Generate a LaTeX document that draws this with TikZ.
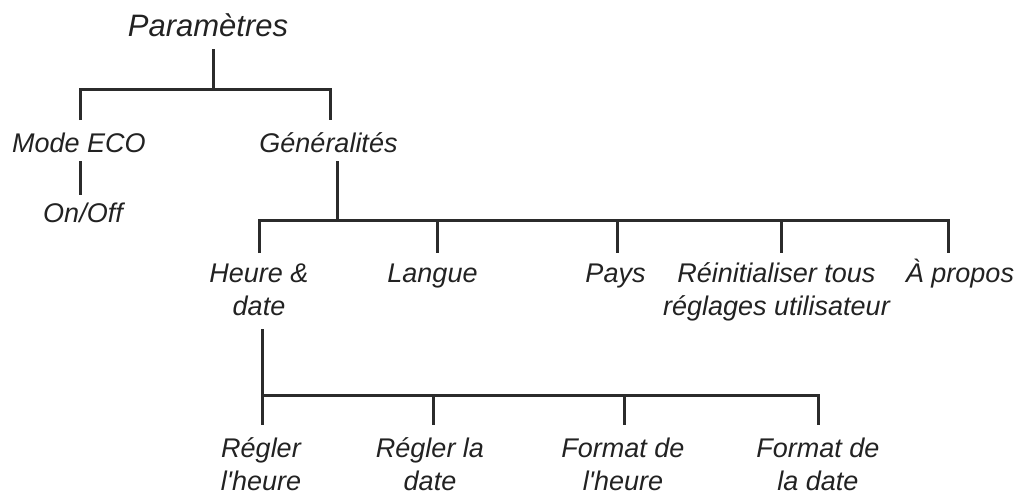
\documentclass[tikz,border=0pt]{standalone}
\usepackage{fontspec}
\newfontfamily\lsans{Liberation Sans}
\definecolor{linegray}{HTML}{2B2B2B}
\definecolor{textgray}{HTML}{222222}
\begin{document}
\begin{tikzpicture}[x=1pt,y=-1pt,
  lbl/.style={anchor=base,inner sep=0pt,align=center,text=textgray,
    font=\lsans\fontsize{27}{33}\selectfont\itshape},
  ttl/.style={anchor=base,inner sep=0pt,text=textgray,
    font=\lsans\fontsize{31}{36}\selectfont\itshape},
  conn/.style={draw=linegray,line width=3pt,line join=miter}]
\useasboundingbox (0,0) rectangle (1026,498);
% texts (multi-line nodes are placed at the baseline of their last line)
\node[ttl] (p) at (208,36) {Paramètres};
\node[lbl] (eco) at (79,152) {Mode ECO};
\node[lbl] (gen) at (328.5,152) {Généralités};
\node[lbl] (onoff) at (83,222) {On/Off};
\node[lbl] (heure) at (259,315) {Heure \&\\date};
\node[lbl] (langue) at (432.5,282) {Langue};
\node[lbl] (pays) at (615.5,282) {Pays};
\node[lbl] (reinit) at (776.5,315) {Réinitialiser tous\\réglages utilisateur};
\node[lbl] (apropos) at (960,282) {À propos};
\node[lbl] (rh) at (261,490) {Régler\\l'heure};
\node[lbl] (rd) at (430,490) {Régler la\\date};
\node[lbl] (fh) at (623,490) {Format de\\l'heure};
\node[lbl] (fd) at (818,490) {Format de\\la date};
% connector points
\coordinate (p-s) at (213,49);
\coordinate (p-b) at (213,89);
\coordinate (eco-t) at (80,120);
\coordinate (gen-t) at (330,120);
\coordinate (eco-s) at (80,161);
\coordinate (onoff-t) at (80,195);
\coordinate (gen-s) at (337,161);
\coordinate (g-b) at (337,220);
\coordinate (heure-t) at (259,253);
\coordinate (langue-t) at (437,253);
\coordinate (pays-t) at (617,253);
\coordinate (reinit-t) at (781,253);
\coordinate (apropos-t) at (948,253);
\coordinate (h-s) at (262,329);
\coordinate (h-b) at (262,395);
\coordinate (rh-t) at (262,425);
\coordinate (rd-t) at (433,425);
\coordinate (fh-t) at (624,425);
\coordinate (fd-t) at (818,425);
% connectors
\draw[conn] (p-s) -- (p-b);
\draw[conn] (eco-t) |- (p-b) -| (gen-t);
\draw[conn] (eco-s) -- (onoff-t);
\draw[conn] (gen-s) -- (g-b);
\draw[conn] (heure-t) |- (g-b) -| (apropos-t);
\draw[conn] (langue-t |- g-b) -- (langue-t);
\draw[conn] (pays-t |- g-b) -- (pays-t);
\draw[conn] (reinit-t |- g-b) -- (reinit-t);
\draw[conn] (h-s) -- (rh-t);
\draw[conn] (h-b) -| (fd-t);
\draw[conn] (rd-t |- h-b) -- (rd-t);
\draw[conn] (fh-t |- h-b) -- (fh-t);
\end{tikzpicture}
\end{document}
